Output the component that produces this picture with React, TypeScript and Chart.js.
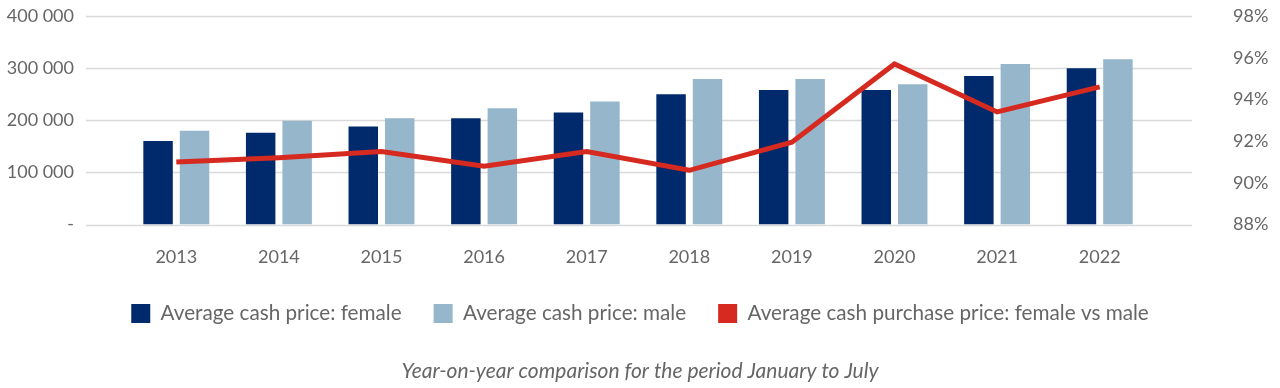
import React, { useEffect, useRef } from "react";
import { Chart, registerables } from "chart.js";

Chart.register(...registerables);

const years = ["2013", "2014", "2015", "2016", "2017", "2018", "2019", "2020", "2021", "2022"];
const femalePrice = [160000, 176000, 188000, 204000, 215000, 250000, 258000, 258000, 285000, 300000];
const malePrice = [180000, 199000, 204000, 223000, 236000, 279000, 279000, 269000, 308000, 317000];
const femaleVsMale = [91.0, 91.2, 91.5, 90.8, 91.5, 90.6, 91.95, 95.7, 93.4, 94.6];

const legendLabels = [
  "Average cash price: female",
  "Average cash price: male",
  "Average cash purchase price: female vs male",
];
const titleText = "Year-on-year comparison for the period January to July";

const DARK = "#002a6c";
const LIGHT = "#95b6cb";
const RED = "#d6291f";
const GRID = "#d9d9d9";
const TEXT = "#666666";
const FONT = "Lato";

const extendedGrid = {
  id: "extendedGrid",
  beforeDatasetsDraw(chart: any) {
    const { ctx, chartArea, scales } = chart;
    const y = scales.y;
    ctx.save();
    ctx.strokeStyle = GRID;
    ctx.lineWidth = 1.5;
    y.ticks.forEach((t: any) => {
      const py = Math.round(y.getPixelForValue(t.value)) + 0.5;
      ctx.beginPath();
      ctx.moveTo(chartArea.left - 39, py);
      ctx.lineTo(chartArea.right + 41, py);
      ctx.stroke();
    });
    ctx.restore();
  },
};

export default function App() {
  const ref = useRef<HTMLCanvasElement | null>(null);
  useEffect(() => {
    if (!ref.current) return;
    const chart = new Chart(ref.current, {
      type: "bar",
      data: {
        labels: years,
        datasets: [
          {
            type: "bar",
            label: legendLabels[0],
            data: femalePrice,
            backgroundColor: DARK,
            yAxisID: "y",
            order: 1,
            barPercentage: 0.808,
            categoryPercentage: 0.711,
          },
          {
            type: "bar",
            label: legendLabels[1],
            data: malePrice,
            backgroundColor: LIGHT,
            yAxisID: "y",
            order: 1,
            barPercentage: 0.808,
            categoryPercentage: 0.711,
          },
          {
            type: "line",
            label: legendLabels[2],
            data: femaleVsMale,
            borderColor: RED,
            backgroundColor: RED,
            borderWidth: 5,
            pointRadius: 0,
            tension: 0,
            yAxisID: "y1",
            order: 0,
          } as any,
        ],
      },
      options: {
        animation: false,
        responsive: true,
        maintainAspectRatio: false,
        layout: { padding: { top: 16, left: 0, right: 0, bottom: 0 } },
        scales: {
          x: {
            grid: { display: false, drawTicks: false },
            border: { display: false },
            ticks: { color: TEXT, font: { family: FONT, size: 18 }, padding: 22 },
            afterFit: (s: any) => {
              s.height -= 19;
            },
          },
          y: {
            position: "left",
            min: 0,
            max: 400000,
            grid: { display: false, drawTicks: false },
            border: { display: false },
            afterFit: (s: any) => {
              s.paddingTop = 0;
              s.paddingBottom = 0;
              s.width = 125;
            },
            ticks: {
              stepSize: 100000,
              color: TEXT,
              font: { family: FONT, size: 18 },
              padding: 51,
              callback: (v: any) =>
                Number(v) === 0 ? "-" : String(v).replace(/\B(?=(\d{3})+(?!\d))/g, " "),
            },
          },
          y1: {
            position: "right",
            min: 88,
            max: 98,
            grid: { display: false, drawTicks: false },
            border: { display: false },
            afterFit: (s: any) => {
              s.paddingTop = 0;
              s.paddingBottom = 0;
              s.width = 129;
            },
            ticks: {
              stepSize: 2,
              autoSkip: false,
              color: TEXT,
              font: { family: FONT, size: 18 },
              padding: 82,
              callback: (v: any) => `${v}%`,
            },
          },
        },
        plugins: {
          tooltip: { enabled: false },
          legend: {
            position: "bottom",
            labels: {
              color: TEXT,
              font: { family: FONT, size: 20.7 },
              boxWidth: 19,
              boxHeight: 19,
              padding: 32,
              sort: (a: any, b: any) => a.datasetIndex - b.datasetIndex,
              generateLabels: (c: any) =>
                Chart.defaults.plugins.legend.labels.generateLabels(c).map((it: any) => ({
                  ...it,
                  lineWidth: 0,
                  strokeStyle: it.fillStyle,
                })),
            },
          },
          title: {
            display: true,
            position: "bottom",
            text: titleText,
            color: TEXT,
            font: { family: FONT, size: 21, style: "italic", weight: "normal" },
            padding: { top: 25, bottom: 4 },
          },
        },
      },
      plugins: [extendedGrid],
    });
    return () => chart.destroy();
  }, []);
  return (
    <div style={{ position: "absolute", left: 0, top: 0, width: 1280, height: 388 }}>
      <canvas ref={ref} />
    </div>
  );
}
